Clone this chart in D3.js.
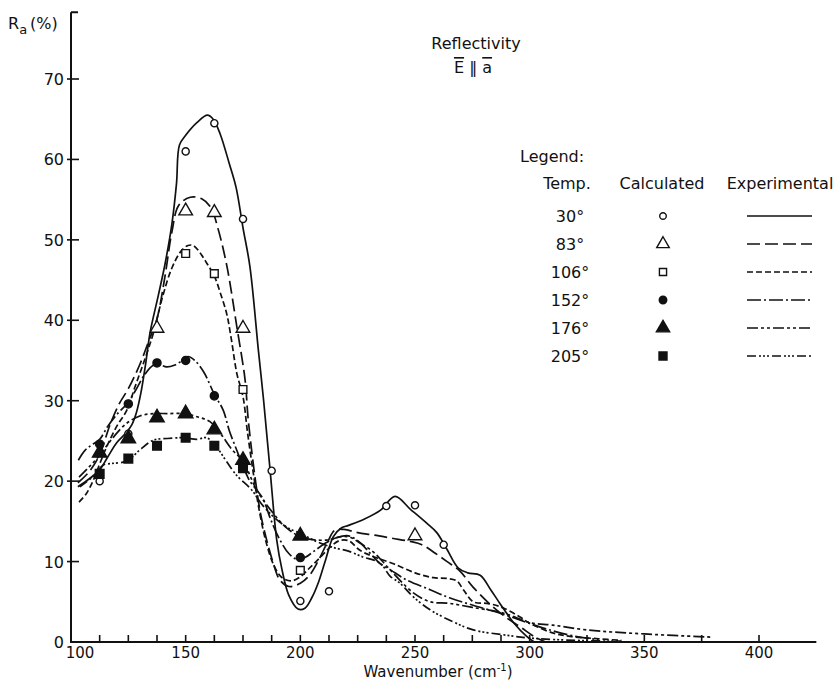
<!DOCTYPE html>
<html>
<head>
<meta charset="utf-8">
<script src="https://cdn.jsdelivr.net/npm/d3@7"></script>
<style>
  body { margin: 0; background: #fff; }
  text { font-family: "DejaVu Sans", sans-serif; fill: #111; }
</style>
</head>
<body>
<div id="chart"></div>
<script>
// series labels (temperature)
const temps = ["30°", "83°", "106°", "152°", "176°", "205°"];

// calculated points [wavenumber, reflectivity %]
const calc30 = [[112.5, 20.0], [125, 25.9], [150, 61], [162.5, 64.5], [175, 52.6], [187.5, 21.3], [200, 5.1], [212.5, 6.3], [237.5, 16.9], [250, 17.0], [262.5, 12.1]];
const calc83 = [[137.5, 39], [150, 53.6], [162.5, 53.4], [175, 39], [250, 13.2]];
const calc106 = [[150, 48.3], [162.5, 45.8], [175, 31.4], [200, 8.9]];
const calc152 = [[112.5, 24.6], [125, 29.6], [137.5, 34.7], [150, 35.0], [162.5, 30.6], [175, 21.8], [200, 10.5]];
const calc176 = [[112.5, 23.5], [125, 25.3], [137.5, 27.9], [150, 28.4], [162.5, 26.4], [175, 22.6], [200, 13.2]];
const calc205 = [[112.5, 20.9], [125, 22.8], [137.5, 24.4], [150, 25.4], [162.5, 24.4], [175, 21.6]];

// experimental curves
const exp30 = [[103, 19.3], [108, 20.3], [112.5, 21.4], [116, 23], [120, 24.8], [124, 26], [126.5, 27], [128.5, 28.5], [130.5, 31], [132.5, 34.5], [134.5, 38.5], [138, 43], [141, 47], [144, 52], [146, 57], [147.3, 61.8], [150, 63], [155, 64.6], [159.5, 65.5], [162, 65], [165, 63.2], [169, 59.5], [172, 56.5], [175, 51.5], [178, 46.7], [181.7, 36.3], [184, 30], [186.8, 21.4], [189.7, 12.7], [192, 9], [195, 5.8], [199, 4.1], [202, 4.2], [205, 5.5], [208, 7.5], [211, 10.2], [214.4, 13.1], [218, 14.2], [221, 14.5], [228, 15.3], [235, 16.4], [241.3, 18.1], [248, 16.5], [255, 14.8], [259.5, 13.6], [263.8, 11.6], [268.9, 9.2], [273, 8.6], [278.4, 8.3], [283, 6.5], [287, 4.8], [293, 2.4], [298.7, 0.7], [302, 0]];
const exp83 = [[103, 19.8], [108, 21.2], [112.5, 23.3], [117, 27], [121, 29.6], [125, 31.5], [130, 34.5], [134, 37.5], [137.5, 40.2], [141, 45.5], [144, 51], [147, 54.3], [152, 55.3], [157, 55.1], [161, 54], [164, 51.5], [168, 46.7], [172.3, 39.2], [175.9, 32.6], [177.3, 27.6], [181, 18.9], [183.2, 15.2], [188.2, 9.8], [191.1, 7.7], [195, 6.9], [200, 7.3], [204, 8.3], [208, 10.2], [212, 12.5], [215, 13.9], [219, 14], [225, 13.6], [232, 13.3], [240, 12.9], [248, 12.5], [253, 12.1], [258, 11.2], [264, 10], [269.6, 8.8], [275.4, 6.8], [282.7, 4.7], [290, 3], [295.8, 1.9], [303, 0.5], [307, 0]];
const exp106 = [[103.5, 17.4], [106.8, 18.5], [109.7, 20.1], [112.6, 22.2], [115.6, 24.3], [119.9, 26.8], [124.3, 28.8], [128, 31.8], [132, 35], [135.9, 38.4], [140, 43], [144, 46.5], [148, 48.6], [151, 49.3], [153.3, 49.3], [156, 48.5], [159.2, 47.1], [162.5, 45.5], [165, 43.5], [167.9, 40.8], [170, 37.5], [172.3, 33.4], [175, 30.5], [177, 26], [179.5, 21], [182, 16.5], [185, 12.5], [188.5, 9.5], [192, 8], [196, 7.6], [200, 8.1], [204, 9.2], [208.6, 10.5], [213, 11.8], [217, 12.6], [221, 12.6], [226, 11.4], [232, 10.6], [240, 9.8], [250, 8.6], [258, 8.0], [264, 7.9], [268.2, 7.6], [271.1, 6.5], [275.4, 5.0], [281.3, 4.8], [287.1, 4.4], [295.8, 3.1], [300.2, 2.3], [310.4, 1.1], [317.6, 0.7], [330, 0.4], [340, 0.2]];
const exp152 = [[103.2, 22.6], [106, 23.8], [109, 24.5], [112.5, 25.2], [116, 26.8], [120, 28.3], [124.3, 29.6], [128, 31.2], [132, 33.2], [135.9, 34.4], [138.5, 34.5], [141.7, 34.2], [145, 34.4], [149, 35.1], [151, 35.5], [154, 35], [158, 33.5], [162.5, 30.8], [166.4, 28.8], [169, 26.3], [172.2, 23.9], [175.1, 21.8], [178, 20], [181, 18.9], [183.9, 17.7], [187, 15.3], [191.1, 12.7], [195, 11], [198.4, 10.3], [202, 10.5], [206, 11.3], [211, 12.3], [216, 13], [221, 13.2], [224.6, 12.7], [228, 11.8], [231.8, 10.6], [235, 9.7], [239.1, 9.0], [246.4, 7.7], [256.6, 6.5], [265, 5.5], [275, 4.6], [288, 3.5], [300, 2.3], [310, 1.4], [320, 0.7], [330, 0.3]];
const exp176 = [[103.5, 20.5], [108, 21.8], [112.5, 23.2], [118, 25.3], [124.3, 27.2], [130, 28.1], [135.9, 28.4], [142, 28.4], [149.7, 28.4], [155, 28], [160.6, 27.4], [165, 26], [170, 24], [175.1, 22.4], [181, 18.9], [188.2, 16], [194, 14.2], [199.9, 13.1], [206, 12.7], [212, 12.7], [218, 13.1], [222, 13], [226, 12.3], [231.8, 11.2], [239.1, 9.0], [249.3, 6.1], [256.6, 5.0], [265, 4.8], [275, 4.3], [288.5, 3.6], [300.2, 2.4], [310, 2.1], [325, 1.5], [350, 1.0], [380, 0.6]];
const exp205 = [[103.9, 19.3], [109.7, 20.6], [114.1, 22], [118, 22.2], [124.3, 22.5], [130.1, 23.9], [135.9, 25.1], [142, 25.3], [149, 25.4], [155, 25.2], [159, 25.4], [162.8, 24.5], [167, 22.8], [172, 20.8], [178.8, 18.9], [183, 17.2], [188.2, 15.6], [194, 14.3], [199.9, 13.5], [208.6, 12.3], [215, 11.7], [221, 11.3], [227, 10.6], [234.8, 9.8], [239.1, 8.2], [243.5, 7.3], [249.3, 5.6], [256.6, 4.0], [266.7, 2.5], [275.4, 1.5], [288.5, 0.9], [300, 0.5], [320, 0.2], [340, 0.1]];

const yTicks = [0, 10, 20, 30, 40, 50, 60, 70];
const xTicks = [100, 150, 200, 250, 300, 350, 400];

const calcData = [calc30, calc83, calc106, calc152, calc176, calc205];
const expData = [exp30, exp83, exp106, exp152, exp176, exp205];

// drawing styles, one per series
const dashes = [null, "13,5", "6,3", "14,3,2,3", "11,3,3,3,3,3", "9,3,2,2,2,2,2,3"];
const symbols = [
    {type: d3.symbolCircle, size: 40, fill: "#fff"},
    {type: d3.symbolTriangle, size: 80, fill: "#fff"},
    {type: d3.symbolSquare, size: 60, fill: "#fff"},
    {type: d3.symbolCircle, size: 52, fill: "#111"},
    {type: d3.symbolTriangle, size: 90, fill: "#111"},
    {type: d3.symbolSquare, size: 75, fill: "#111"}
];

let width = 838,
    height = 681;

let svg = d3.select("#chart")
    .append("svg")
    .attr("width", width)
    .attr("height", height);

svg.append("rect").attr("width", width).attr("height", height).attr("fill", "#fff");

let x = d3.scaleLinear().domain([100, 400]).range([71, 759]);
let y = d3.scaleLinear().domain([0, 70]).range([642, 79]);

// axes
let axes = svg.append("g").attr("stroke", "#111").attr("stroke-width", 2).attr("fill", "none");
axes.append("line")
    .attr("x1", x(100)).attr("x2", x(100))
    .attr("y1", y(0) + 1).attr("y2", y(78.3));
axes.append("line")
    .attr("x1", x(100)).attr("x2", x(100) + 7)
    .attr("y1", y(78.3)).attr("y2", y(78.3));
axes.append("line")
    .attr("x1", x(100) - 1).attr("x2", x(425))
    .attr("y1", y(0)).attr("y2", y(0));

axes.selectAll(".ytick")
    .data(yTicks.slice(1))
    .enter().append("line")
    .attr("x1", x(100) - 4).attr("x2", x(100) + 8)
    .attr("y1", d => y(d)).attr("y2", d => y(d))
    .attr("stroke-width", 1.6);

let minorX = d3.range(100, 300, 12.5).concat(d3.range(300, 401, 25));
axes.selectAll(".xtick")
    .data(minorX)
    .enter().append("line")
    .attr("x1", d => x(d)).attr("x2", d => x(d))
    .attr("y1", y(0)).attr("y2", y(0) - 7)
    .attr("stroke-width", 1.6);

svg.selectAll(".ylab")
    .data(yTicks)
    .enter().append("text")
    .attr("x", x(100) - 7)
    .attr("y", d => y(d) + 6)
    .attr("text-anchor", "end")
    .attr("font-size", 16)
    .text(d => d);

svg.selectAll(".xlab")
    .data(xTicks)
    .enter().append("text")
    .attr("x", d => d === 100 ? x(d) + 9 : x(d))
    .attr("y", y(0) + 16)
    .attr("text-anchor", "middle")
    .attr("font-size", 15)
    .text(d => d);

// axis titles
let xt = svg.append("text")
    .attr("x", 438).attr("y", 677)
    .attr("text-anchor", "middle")
    .attr("font-size", 15);
xt.append("tspan").text("Wavenumber (cm");
xt.append("tspan").attr("dy", -6).attr("font-size", 10).text("-1");
xt.append("tspan").attr("dy", 6).text(")");

let yt = svg.append("text").attr("x", 8).attr("y", 29).attr("font-size", 16);
yt.append("tspan").text("R");
yt.append("tspan").attr("dy", 5).attr("font-size", 13).text("a");
yt.append("tspan").attr("dy", -5).attr("dx", 3).text("(%)");

// curves
let line = d3.line()
    .x(d => x(d[0]))
    .y(d => y(d[1]))
    .curve(d3.curveCatmullRom.alpha(0.5));

svg.append("g").selectAll("path")
    .data(expData)
    .enter().append("path")
    .attr("d", line)
    .attr("fill", "none")
    .attr("stroke", "#111")
    .attr("stroke-width", 1.7)
    .attr("stroke-dasharray", (d, i) => dashes[i]);

// calculated markers
calcData.forEach(function (pts, i) {
    let s = symbols[i];
    svg.append("g").selectAll("path")
        .data(pts)
        .enter().append("path")
        .attr("transform", d => "translate(" + x(d[0]) + "," + y(d[1]) + ")")
        .attr("d", d3.symbol().type(s.type).size(s.size))
        .attr("fill", s.fill)
        .attr("stroke", "#111")
        .attr("stroke-width", 1.4);
});

// title
svg.append("text")
    .attr("x", 476).attr("y", 49)
    .attr("text-anchor", "middle")
    .attr("font-size", 16)
    .text("Reflectivity");
let sub = svg.append("text")
    .attr("x", 473).attr("y", 73)
    .attr("text-anchor", "middle")
    .attr("font-size", 16);
sub.append("tspan").style("text-decoration", "overline").text("E");
sub.append("tspan").text(" \u2016 ");
sub.append("tspan").style("text-decoration", "overline").text("a");

// legend
let legend = svg.append("g").attr("font-size", 16);
legend.append("text").attr("x", 520).attr("y", 162).text("Legend:");
legend.append("text").attr("x", 567).attr("y", 189).attr("text-anchor", "middle").text("Temp.");
legend.append("text").attr("x", 662).attr("y", 189).attr("text-anchor", "middle").text("Calculated");
legend.append("text").attr("x", 780).attr("y", 189).attr("text-anchor", "middle").text("Experimental");

let rowY = d3.scalePoint().domain(temps).range([216, 356]);

legend.selectAll(".tlab")
    .data(temps)
    .enter().append("text")
    .attr("x", 570)
    .attr("y", d => rowY(d) + 6)
    .attr("text-anchor", "middle")
    .text(d => d);

legend.selectAll(".lsym")
    .data(temps)
    .enter().append("path")
    .attr("transform", d => "translate(663," + rowY(d) + ")")
    .attr("d", (d, i) => d3.symbol().type(symbols[i].type).size(symbols[i].size * 0.85)())
    .attr("fill", (d, i) => symbols[i].fill)
    .attr("stroke", "#111")
    .attr("stroke-width", 1.4);

legend.selectAll(".lline")
    .data(temps)
    .enter().append("line")
    .attr("x1", 747).attr("x2", 812)
    .attr("y1", d => rowY(d)).attr("y2", d => rowY(d))
    .attr("stroke", "#111")
    .attr("stroke-width", 1.5)
    .attr("stroke-dasharray", (d, i) => dashes[i]);
</script>
</body>
</html>
